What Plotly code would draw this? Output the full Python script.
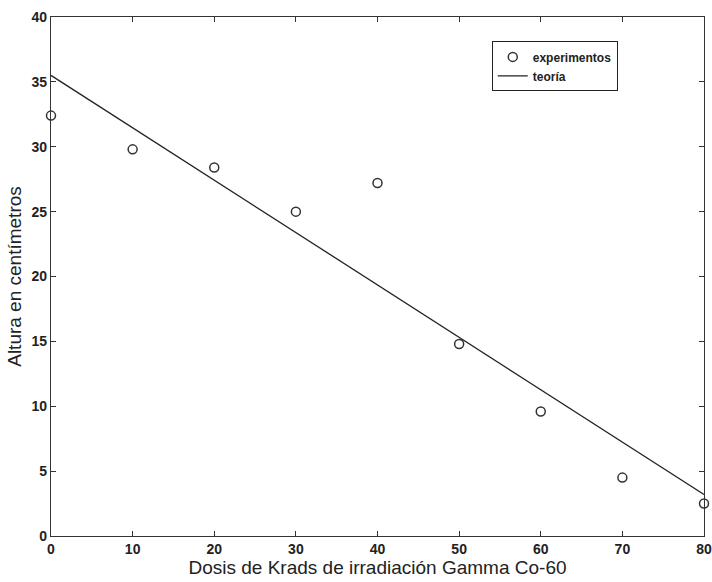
import plotly.graph_objects as go

dose = [0, 10, 20, 30, 40, 50, 60, 70, 80]
height_exp = [32.4, 29.8, 28.4, 25.0, 27.2, 14.8, 9.6, 4.5, 2.5]
theory_x = [0, 80]
theory_y = [35.5, 3.2]

FONT = "Liberation Sans, Arial, sans-serif"

fig = go.Figure()
fig.add_trace(go.Scatter(
    x=dose, y=height_exp, mode="markers", name="experimentos",
    marker=dict(symbol="circle-open", size=9, color="#333333", line=dict(width=1.5)),
    cliponaxis=False,
))
fig.add_trace(go.Scatter(
    x=theory_x, y=theory_y, mode="lines", name="teoría",
    line=dict(color="#222222", width=1.3),
))

axis_common = dict(
    showgrid=False, zeroline=False, showline=True, linecolor="#333333", linewidth=1.3,
    mirror="allticks", ticks="inside", ticklen=5, tickcolor="#333333", tickwidth=1,
    automargin=False,
    tickfont=dict(family=FONT, size=14, color="#222222", weight="bold"),
)

fig.update_layout(
    width=712, height=582,
    margin=dict(l=51, r=8, t=17, b=46),
    paper_bgcolor="white", plot_bgcolor="white",
    xaxis=dict(range=[0, 80], tickvals=[0, 10, 20, 30, 40, 50, 60, 70, 80],
               title=dict(text="Dosis de Krads de irradiación Gamma Co-60", standoff=2,
                          font=dict(family=FONT, size=19, color="#222222")),
               **axis_common),
    yaxis=dict(range=[0, 40], tickvals=[0, 5, 10, 15, 20, 25, 30, 35, 40],
               title=dict(text="Altura en centímetros", standoff=4,
                          font=dict(family=FONT, size=19, color="#222222")),
               **axis_common),
    showlegend=True,
    legend=dict(x=0.675, y=0.953, xanchor="left", yanchor="top",
                bordercolor="#222222", borderwidth=1, bgcolor="white",
                font=dict(family=FONT, size=12, color="#222222", weight="bold"),
                itemwidth=30, tracegroupgap=0),
)

fig.write_html("out.html")
